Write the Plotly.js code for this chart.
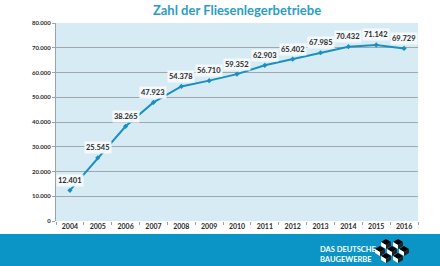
<!DOCTYPE html>
<html>
<head>
<meta charset="utf-8">
<script src="https://cdn.plot.ly/plotly-3.0.1.min.js"></script>
<style>
  html, body { margin: 0; padding: 0; background: #ffffff; }
  #chart { width: 440px; height: 266px; }
</style>
</head>
<body>
<div id="chart"></div>
<script>
// Number of tile-laying businesses (Fliesenlegerbetriebe) per year
const years = ['2004', '2005', '2006', '2007', '2008', '2009', '2010',
               '2011', '2012', '2013', '2014', '2015', '2016'];
const betriebe = [12401, 25545, 38265, 47923, 54378, 56710, 59352,
                  62903, 65402, 67985, 70432, 71142, 69729];
const yTicks = [0, 10000, 20000, 30000, 40000, 50000, 60000, 70000, 80000];

// German thousands separator
function fmt(v) {
  return String(v).replace(/\B(?=(\d{3})+(?!\d))/g, '.');
}

const W = 440, H = 266;
const M = { l: 56, r: 22, t: 23, b: 45 };
const plotW = W - M.l - M.r, plotH = H - M.t - M.b;

// pixel -> paper coordinate helpers for the footer decoration
const px = x => (x - M.l) / plotW;
const py = y => (H - M.b - y) / plotH;

const lineColor = '#1a90c0';
const font = 'Lato, "Open Sans", sans-serif';

const trace = {
  x: years,
  y: betriebe,
  type: 'scatter',
  mode: 'lines+markers',
  line: { color: lineColor, width: 2 },
  marker: { color: lineColor, size: 4, symbol: 'diamond' },
  hoverinfo: 'skip'
};

// value labels above each point (category axis -> index positions)
const labels = years.map((yr, i) => ({
  x: i,
  y: betriebe[i],
  xref: 'x',
  yref: 'y',
  text: '<b>' + fmt(betriebe[i]) + '</b>',
  showarrow: false,
  yshift: 10,
  font: { family: font, size: 7.5, color: '#2b2b2b' },
  bgcolor: 'rgba(246,250,252,0.95)',
  borderpad: 1
}));

// Footer banner text
labels.push({
  xref: 'paper', yref: 'paper',
  x: px(318), y: py(249),
  xanchor: 'left', yanchor: 'middle',
  text: '<b>DAS DEUTSCHE</b>',
  showarrow: false,
  font: { family: font, size: 7.5, color: '#ffffff' }
});
labels.push({
  xref: 'paper', yref: 'paper',
  x: px(318), y: py(259),
  xanchor: 'left', yanchor: 'middle',
  text: '<b>BAUGEWERBE</b>',
  showarrow: false,
  font: { family: font, size: 7.5, color: '#ffffff' }
});

const shapes = [{
  type: 'rect', xref: 'paper', yref: 'paper', layer: 'below',
  x0: px(0), x1: px(W), y0: py(234), y1: py(H),
  fillcolor: '#0a95c6', line: { width: 0 }
}];

// Small isometric cube cluster logo: black top, white left face, dark right face
function cube(cx, cy, a, t, d) {
  const P = (x, y) => px(x) + ',' + py(y);
  const top = 'M' + P(cx, cy - t) + ' L' + P(cx + a, cy) + ' L' + P(cx, cy + t) + ' L' + P(cx - a, cy) + ' Z';
  const left = 'M' + P(cx - a, cy) + ' L' + P(cx, cy + t) + ' L' + P(cx, cy + t + d) + ' L' + P(cx - a, cy + d) + ' Z';
  const right = 'M' + P(cx, cy + t) + ' L' + P(cx + a, cy) + ' L' + P(cx + a, cy + d) + ' L' + P(cx, cy + t + d) + ' Z';
  return [
    { type: 'path', xref: 'paper', yref: 'paper', path: top, fillcolor: '#000000', line: { width: 0 } },
    { type: 'path', xref: 'paper', yref: 'paper', path: left, fillcolor: '#ffffff', line: { width: 0 } },
    { type: 'path', xref: 'paper', yref: 'paper', path: right, fillcolor: '#222222', line: { width: 0 } }
  ];
}
const cubeCenters = [
  [386, 242], [398, 242],
  [380, 249], [392, 249], [404, 249],
  [386, 256], [398, 256]
];
cubeCenters.forEach(c => shapes.push(...cube(c[0], c[1], 5, 3, 4)));

const layout = {
  width: W,
  height: H,
  margin: M,
  separators: ',.',
  paper_bgcolor: '#ffffff',
  plot_bgcolor: '#d7ebf4',
  showlegend: false,
  title: {
    text: '<b>Zahl der Fliesenlegerbetriebe</b>',
    x: 0.5, xref: 'paper', xanchor: 'center',
    y: 1 - 10 / H, yanchor: 'middle',
    font: { family: font, size: 13, color: '#2a9dc5' }
  },
  xaxis: {
    type: 'category',
    range: [-0.5, years.length - 0.5],
    showgrid: false,
    zeroline: false,
    showline: false,
    ticks: 'outside',
    tickson: 'boundaries',
    ticklen: 3,
    tickcolor: '#9aa4a8',
    tickfont: { family: font, size: 7, color: '#2b2b2b', weight: 'bold' },
    fixedrange: true
  },
  yaxis: {
    range: [0, 80000],
    tickvals: yTicks,
    tickformat: ',d',
    showgrid: true,
    gridcolor: '#9ea8ad',
    gridwidth: 1,
    zeroline: false,
    showline: true,
    linecolor: '#9aa4a8',
    linewidth: 1,
    ticks: 'outside',
    ticklen: 3,
    tickcolor: '#9aa4a8',
    tickfont: { family: font, size: 6, color: '#2b2b2b', weight: 'bold' },
    fixedrange: true
  },
  annotations: labels,
  shapes: shapes
};

Plotly.newPlot('chart', [trace], layout, { displayModeBar: false, staticPlot: true });
</script>
</body>
</html>
